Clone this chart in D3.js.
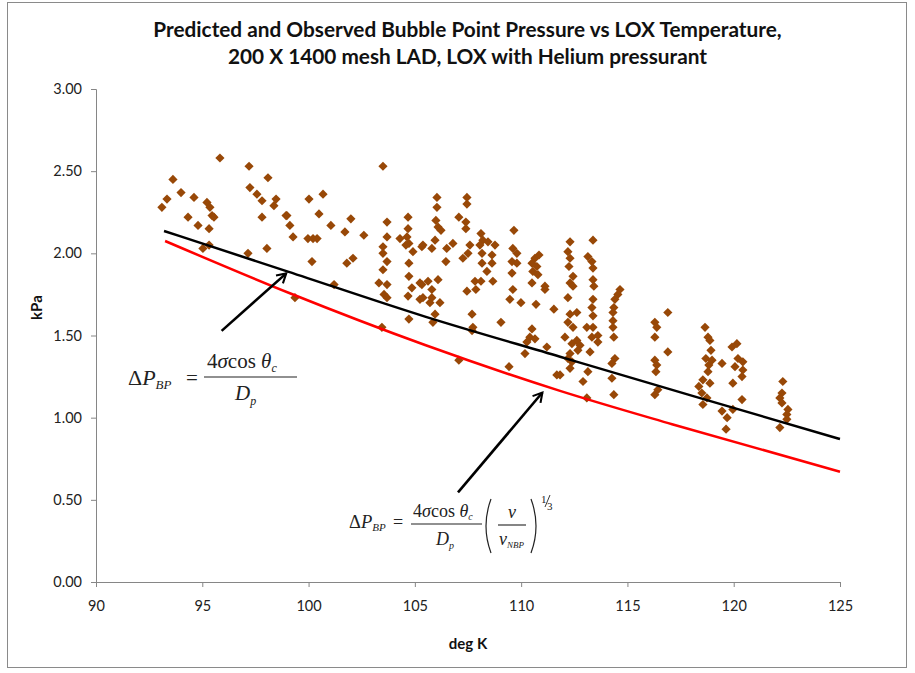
<!DOCTYPE html>
<html><head><meta charset="utf-8">
<script src="https://cdn.jsdelivr.net/npm/d3@7"></script>
<style>body{margin:0;background:#fff}svg{display:block}</style>
</head><body>
<script>
// ---------- data ----------
const titleLines = ["Predicted and Observed Bubble Point Pressure vs LOX Temperature,", "200 X 1400 mesh LAD, LOX with Helium pressurant"];
const xTicks = [90, 95, 100, 105, 110, 115, 120, 125];
const yTicks = [0, 0.5, 1.0, 1.5, 2.0, 2.5, 3.0];
const xLabel = "deg K", yLabel = "kPa";

const observedK = [95.83,93.62,97.20,98.09,93.34,93.10,94.00,94.61,95.22,95.36,95.46,95.55,94.33,94.80,95.32,95.03,95.32,97.24,97.57,97.81,98.47,98.37,97.81,98.94,97.15,98.04,
103.5,100.68,100.02,100.49,98.98,99.12,101.05,101.99,101.71,102.6,99.27,99.97,100.21,100.4,100.16,101.8,102.09,101.2,99.36,103.45,
103.69,103.69,103.5,103.5,103.69,103.5,103.31,103.69,103.55,103.69,104.68,104.68,104.3,104.63,104.72,104.58,104.91,105.33,104.72,104.72,104.86,104.68,105.33,105.24,104.72,
106.04,106.04,105.99,106.09,106.23,105.95,105.38,105.8,106.5,106.79,106.46,107.45,107.45,107.07,107.4,107.4,107.59,107.5,107.26,
108.11,108.2,108.06,108.44,108.77,108.16,108.63,108.63,108.16,108.39,107.83,108.11,108.67,107.87,107.45,
109.66,109.61,109.8,109.57,109.8,109.57,109.61,109.47,109.99,110.65,110.84,110.51,110.74,110.55,110.79,110.51,111.12,111.12,110.7,111.54,
105.24,105.62,106.09,105.8,105.38,105.8,105.71,106.18,105.95,105.85,107.69,107.73,107.69,109.05,107.07,110.51,110.41,110.27,110.65,110.18,111.21,109.43,111.68,
112.3,113.38,112.2,112.3,112.25,113.14,113.33,113.38,112.44,112.3,112.44,112.2,113.38,113.42,113.38,113.33,113.38,113.38,113.09,113.33,113.61,113.61,113.24,113.14,
112.3,112.62,112.2,112.44,112.06,112.62,112.39,112.77,112.67,112.3,112.2,112.39,112.3,111.83,112.91,113.09,
114.65,114.55,114.41,114.36,114.32,114.32,114.32,114.36,114.41,114.27,114.27,114.36,
116.9,116.29,116.38,116.29,116.9,116.29,116.38,116.34,116.43,116.29,
118.65,118.79,118.88,118.93,118.69,118.98,118.83,119.45,118.79,118.55,118.88,118.36,118.5,118.74,118.55,119.45,119.69,119.64,119.96,
119.92,120.15,120.2,120.06,120.43,120.43,120.39,119.96,120.39,
122.31,122.27,122.17,122.27,122.55,122.5,122.5,122.17];
const observedKPa = [2.58,2.45,2.53,2.46,2.33,2.28,2.37,2.34,2.31,2.28,2.23,2.22,2.22,2.17,2.15,2.03,2.05,2.40,2.36,2.32,2.33,2.29,2.22,2.23,2.00,2.03,
2.53,2.36,2.33,2.24,2.23,2.17,2.17,2.21,2.13,2.11,2.10,2.09,2.09,2.09,1.95,1.94,1.97,1.81,1.73,1.55,
2.19,2.10,2.04,2.00,1.95,1.90,1.82,1.81,1.75,1.73,2.22,2.15,2.09,2.10,2.06,2.05,2.01,2.04,1.94,1.86,1.79,1.74,1.81,1.72,1.60,
2.34,2.28,2.20,2.16,2.14,2.08,2.05,2.03,2.03,2.06,1.95,2.34,2.30,2.22,2.19,2.15,2.05,2.00,1.97,
2.12,2.08,2.05,2.07,2.05,2.00,1.99,1.94,1.94,1.89,1.83,1.83,1.83,1.78,1.77,
2.14,2.03,2.00,1.95,1.94,1.88,1.78,1.72,1.70,1.97,1.99,1.94,1.92,1.89,1.87,1.82,1.80,1.78,1.69,1.66,
1.82,1.83,1.84,1.78,1.73,1.73,1.70,1.70,1.63,1.58,1.63,1.55,1.53,1.58,1.35,1.54,1.49,1.46,1.48,1.39,1.43,1.31,1.26,
2.07,2.08,2.01,1.97,1.92,1.98,1.95,1.91,1.86,1.82,1.80,1.73,1.84,1.80,1.72,1.67,1.62,1.55,1.55,1.49,1.50,1.46,1.40,1.28,
1.63,1.64,1.58,1.55,1.49,1.47,1.45,1.44,1.41,1.39,1.36,1.34,1.30,1.26,1.22,1.12,
1.78,1.75,1.72,1.67,1.64,1.59,1.55,1.49,1.36,1.33,1.24,1.14,
1.64,1.58,1.55,1.49,1.40,1.35,1.32,1.28,1.17,1.14,
1.55,1.49,1.47,1.41,1.36,1.35,1.32,1.33,1.28,1.23,1.21,1.19,1.15,1.12,1.08,1.04,1.00,0.93,1.05,
1.43,1.45,1.36,1.31,1.34,1.29,1.25,1.21,1.11,
1.22,1.15,1.12,1.09,1.05,1.02,0.99,0.94];

// predicted (no viscosity correction) – black
const predK = [93.2, 99.03, 105.48, 111.83, 118.18, 125];
const predKPa = [2.136, 1.889, 1.615, 1.371, 1.128, 0.870];
// predicted with viscosity correction – red
const predViscK = [93.25, 99.12, 105.48, 111.83, 117.1, 125];
const predViscKPa = [2.075, 1.757, 1.442, 1.163, 0.960, 0.671];

// ---------- layout ----------
const W = 915, H = 673;
const svg = d3.select("body").append("svg").attr("width", W).attr("height", H);
const x = d3.scaleLinear().domain([90, 125]).range([96, 840]);
const y = d3.scaleLinear().domain([0, 3]).range([582, 89]);
const sans = "Lato, 'Open Sans', sans-serif";
const serif = "'Liberation Serif', 'DejaVu Serif', serif";

svg.append("rect").attr("x", 7.5).attr("y", 2.5).attr("width", 899).attr("height", 665)
  .attr("fill", "#fff").attr("stroke", "#8a8a8a").attr("stroke-width", 1);

// title
const tg = svg.append("g").attr("font-family", sans).attr("font-weight", "bold").attr("fill", "#111");
const t1 = tg.append("text").attr("x", 467.5).attr("y", 37).attr("text-anchor", "middle").attr("font-size", 18).text(titleLines[0]);
const w1 = t1.node().getComputedTextLength();
const fs = 18 * 629 / w1;
t1.attr("font-size", fs);
tg.append("text").attr("x", 467.5).attr("y", 64).attr("text-anchor", "middle").attr("font-size", fs).text(titleLines[1]);

// axes
const axisColor = "#868686";
const xAxis = svg.append("g").attr("transform", `translate(0,${y(0)})`)
  .call(d3.axisBottom(x).tickValues(xTicks).tickSize(5).tickPadding(14).tickFormat(d3.format("d")));
const yAxis = svg.append("g").attr("transform", `translate(${x(90)},0)`)
  .call(d3.axisLeft(y).tickValues(yTicks).tickSize(5).tickPadding(9).tickFormat(d3.format(".2f")));
[xAxis, yAxis].forEach(a => {
  a.select(".domain").attr("stroke", axisColor);
  a.selectAll(".tick line").attr("stroke", axisColor);
  a.selectAll(".tick text").attr("font-family", sans).attr("font-size", 14.5).attr("fill", "#222");
});

svg.append("text").attr("x", x(107.5)).attr("y", 649).attr("text-anchor", "middle")
  .attr("font-family", sans).attr("font-weight", "bold").attr("font-size", 15).attr("fill", "#111").text(xLabel);
svg.append("text").attr("transform", `translate(42,${y(1.67)}) rotate(-90)`).attr("text-anchor", "middle")
  .attr("font-family", sans).attr("font-weight", "bold").attr("font-size", 15).attr("fill", "#111").text(yLabel);

// scatter
const obs = observedK.map((k, i) => [k, observedKPa[i]]);
const r = 4.6;
svg.append("g").selectAll("path").data(obs).join("path")
  .attr("d", d => `M${x(d[0])},${y(d[1]) - r}L${x(d[0]) + r},${y(d[1])}L${x(d[0])},${y(d[1]) + r}L${x(d[0]) - r},${y(d[1])}Z`)
  .attr("fill", "#984807");

// prediction lines
const line = d3.line().x(d => x(d[0])).y(d => y(d[1])).curve(d3.curveMonotoneX);
svg.append("path").datum(predViscK.map((k, i) => [k, predViscKPa[i]])).attr("d", line)
  .attr("fill", "none").attr("stroke", "#ff0000").attr("stroke-width", 2.5);
svg.append("path").datum(predK.map((k, i) => [k, predKPa[i]])).attr("d", line)
  .attr("fill", "none").attr("stroke", "#000").attr("stroke-width", 2.5);

// arrows
const defs = svg.append("defs");
defs.append("marker").attr("id", "ah").attr("viewBox", "0 0 10 10").attr("refX", 8).attr("refY", 5)
  .attr("markerWidth", 5).attr("markerHeight", 5).attr("orient", "auto")
  .append("path").attr("d", "M1,1L8,5L1,9").attr("fill", "none").attr("stroke", "#000").attr("stroke-width", 1.6);
function arrow(x1, y1, x2, y2) {
  svg.append("line").attr("x1", x(x1)).attr("y1", y(y1)).attr("x2", x(x2)).attr("y2", y(y2))
    .attr("stroke", "#000").attr("stroke-width", 2.6).attr("marker-end", "url(#ah)");
}
arrow(95.91, 1.528, 98.95, 1.878);
arrow(107.03, 0.545, 111.0, 1.153);

// formulas
const fg = svg.append("g").attr("font-family", serif).attr("fill", "#222");
function txt(px, py, size, parts) {
  const t = fg.append("text").attr("x", px).attr("y", py).attr("font-size", size);
  parts.forEach(p => {
    const s = t.append("tspan").text(p.t);
    if (p.i) s.attr("font-style", "italic");
    if (p.s) s.attr("font-size", p.s);
    if (p.dy) s.attr("dy", p.dy);
    if (p.dx) s.attr("dx", p.dx);
  });
  return t;
}
function hbar(x1, x2, yy) {
  fg.append("line").attr("x1", x1).attr("x2", x2).attr("y1", yy).attr("y2", yy).attr("stroke", "#222").attr("stroke-width", 1.1);
}
// formula 1
txt(128, 385, 22, [{t: "Δ"}, {t: "P", i: 1}, {t: "BP", i: 1, s: 13, dy: 4}]);
txt(186, 385, 21, [{t: "="}]);
hbar(204, 297, 377);
txt(207, 368, 21, [{t: "4"}, {t: "σ", i: 1}, {t: "cos "}, {t: "θ", i: 1}, {t: "c", i: 1, s: 12, dy: 4}]);
txt(235, 400, 21, [{t: "D", i: 1}, {t: "p", i: 1, s: 12, dy: 5}]);
// formula 2
txt(349, 528, 18.5, [{t: "Δ"}, {t: "P", i: 1}, {t: "BP", i: 1, s: 11, dy: 3}]);
txt(393, 528, 18, [{t: "="}]);
hbar(411, 482, 524);
txt(413, 517, 18, [{t: "4"}, {t: "σ", i: 1}, {t: "cos "}, {t: "θ", i: 1}, {t: "c", i: 1, s: 10, dy: 3}]);
txt(436, 545, 18, [{t: "D", i: 1}, {t: "p", i: 1, s: 10, dy: 4}]);
fg.append("path").attr("d", "M491,499Q481,526 491,553").attr("fill", "none").attr("stroke", "#222").attr("stroke-width", 1.2);
fg.append("path").attr("d", "M531,499Q541,526 531,553").attr("fill", "none").attr("stroke", "#222").attr("stroke-width", 1.2);
hbar(498, 526, 525);
txt(508, 518, 18, [{t: "ν", i: 1}]);
txt(499, 545, 18, [{t: "ν", i: 1}, {t: "NBP", i: 1, s: 9, dy: 3}]);
txt(541, 503, 11, [{t: "1"}]);
fg.append("line").attr("x1", 545).attr("y1", 507).attr("x2", 550).attr("y2", 495).attr("stroke", "#222").attr("stroke-width", 0.9);
txt(547, 510, 11, [{t: "3"}]);
</script>
</body></html>
